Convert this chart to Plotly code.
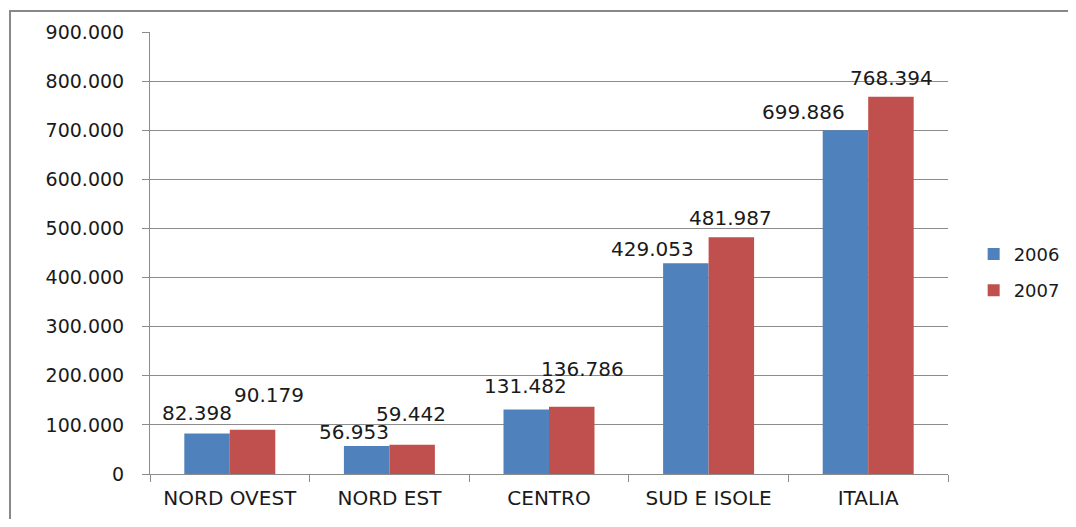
import plotly.graph_objects as go

categories = ["NORD OVEST", "NORD EST", "CENTRO", "SUD E ISOLE", "ITALIA"]
values_2006 = [82398, 56953, 131482, 429053, 699886]
values_2007 = [90179, 59442, 136786, 481987, 768394]
y_ticks = [0, 100000, 200000, 300000, 400000, 500000, 600000, 700000, 800000, 900000]

# label offsets (pixels, label centre relative to bar top centre) imitating the original
shift_2006 = [(-10, 21), (-13, 14), (-1, 23), (-33, 14), (-42, 18)]
shift_2007 = [(16, 35), (-1, 31), (11, 38), (-1, 19), (0, 19)]

BLUE = "#4F81BD"
RED = "#C0504D"
GRID = "#8C8C8C"
FONT = "DejaVu Sans"
TXT = "#1a1a1a"

def fmt(v):
    return f"{v:,}".replace(",", ".")

fig = go.Figure()
fig.add_trace(go.Bar(name="2006", x=categories, y=values_2006, legendgroup="a",
                     marker=dict(color=BLUE, line=dict(width=0))))
fig.add_trace(go.Bar(name="2007", x=categories, y=values_2007, legendgroup="b",
                     marker=dict(color=RED, line=dict(width=0))))

annotations = []
for i, c in enumerate(categories):
    for vals, sh, off in ((values_2006, shift_2006, -0.143), (values_2007, shift_2007, 0.143)):
        annotations.append(dict(
            x=i + off, y=vals[i], xref="x", yref="y", text=fmt(vals[i]),
            showarrow=False, xshift=sh[i][0], yshift=sh[i][1], yanchor="middle",
            font=dict(family=FONT, size=20, color=TXT),
        ))

fig.update_layout(
    width=1060, height=511,
    margin=dict(l=142, r=120, t=24, b=45, autoexpand=False),
    paper_bgcolor="white", plot_bgcolor="white",
    barmode="group", bargap=0.43, bargroupgap=0,
    separators=",.",
    font=dict(family=FONT, size=19, color=TXT),
    xaxis=dict(
        type="category", tickson="boundaries", ticks="outside", ticklen=7,
        tickcolor=GRID, showline=True, linecolor=GRID, linewidth=1,
        showgrid=False, tickfont=dict(family=FONT, size=20, color=TXT),
        range=[-0.5, 4.5], ticklabelstandoff=6, automargin=False,
    ),
    yaxis=dict(
        range=[0, 900000], tickvals=y_ticks, tickformat=",d",
        ticks="outside", ticklen=7, tickcolor=GRID,
        showline=True, linecolor=GRID, linewidth=1,
        showgrid=True, gridcolor=GRID, gridwidth=1, zeroline=False,
        tickfont=dict(family=FONT, size=19, color=TXT),
        ticklabelstandoff=14, automargin=False,
    ),
    legend=dict(
        xref="container", yref="container",
        x=0.911, y=0.483, xanchor="left", yanchor="middle",
        font=dict(family=FONT, size=18, color=TXT),
        itemsizing="constant", tracegroupgap=10, itemwidth=30,
    ),
    annotations=annotations,
    shapes=[dict(
        type="rect", xref="paper", yref="paper",
        x0=(10 - 150) / 798, x1=(1090 - 150) / 798,
        y0=(474 - 540) / 442, y1=(474 - 11) / 442,
        line=dict(color="#888", width=2), fillcolor="rgba(0,0,0,0)", layer="below",
    )],
)

fig.write_html("out.html")
